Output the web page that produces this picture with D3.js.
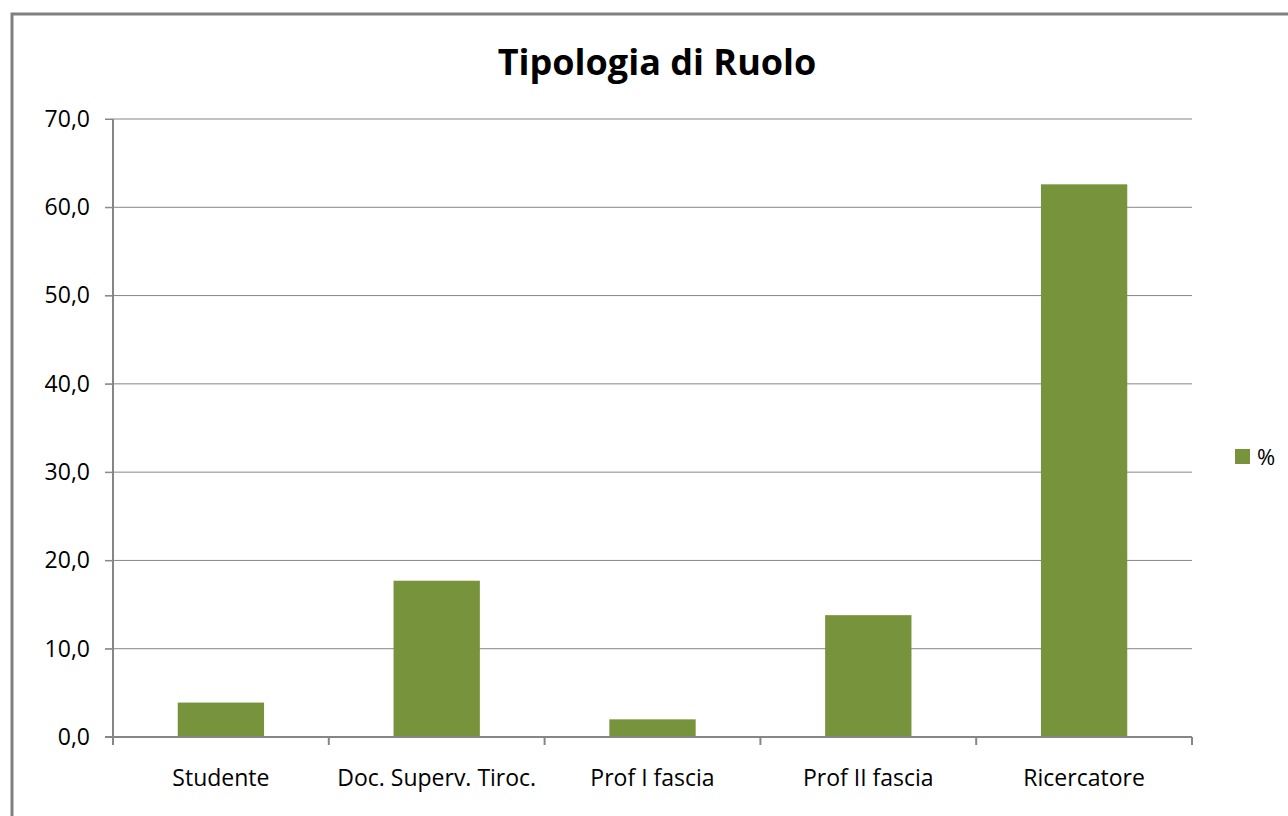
<!DOCTYPE html>
<html>
<head>
<meta charset="utf-8">
<script src="https://cdn.jsdelivr.net/npm/d3@7"></script>
<style>
  body { margin: 0; background: #fff; }
  svg { display: block; font-family: "Open Sans", "DejaVu Sans", sans-serif; }
</style>
</head>
<body>
<svg width="1288" height="816"></svg>
<script>
var categories = ['Studente', 'Doc. Superv. Tiroc.', 'Prof I fascia', 'Prof II fascia', 'Ricercatore'];
var values = [3.9, 17.7, 2.0, 13.8, 62.6];
var yTicks = [0, 10, 20, 30, 40, 50, 60, 70];
var seriesName = '%';

var green = '#77933C';
var gray = '#868686';

var svg = d3.select('svg');

// chart frame (runs off the right and bottom edges)
svg.append('rect')
  .attr('x', 12).attr('y', 14)
  .attr('width', 1300).attr('height', 820)
  .attr('fill', 'none')
  .attr('stroke', '#808080')
  .attr('stroke-width', 3);

svg.append('text')
  .attr('x', 657).attr('y', 75)
  .attr('text-anchor', 'middle')
  .style('font-size', '36px')
  .style('font-weight', 'bold')
  .text('Tipologia di Ruolo');

var plotLeft = 113, plotRight = 1192, plotTop = 119, plotBottom = 737;

var x = d3.scaleBand().domain(categories).range([plotLeft, plotRight]).paddingInner(0.6).paddingOuter(0.3);
var y = d3.scaleLinear().domain([0, 70]).range([plotBottom, plotTop]);

// gridlines
svg.append('g').selectAll('line')
  .data(yTicks.filter(function(d) { return d > 0; }))
  .enter().append('line')
  .attr('x1', plotLeft - 8).attr('x2', plotRight)
  .attr('y1', function(d) { return y(d); })
  .attr('y2', function(d) { return y(d); })
  .attr('stroke', gray).attr('stroke-width', 1);

// bars
svg.append('g').selectAll('rect')
  .data(values)
  .enter().append('rect')
  .attr('x', function(d, i) { return x(categories[i]); })
  .attr('width', x.bandwidth())
  .attr('y', function(d) { return y(d); })
  .attr('height', function(d) { return y(0) - y(d); })
  .attr('fill', green);

// y axis
var yAxis = d3.axisLeft(y)
  .tickValues(yTicks)
  .tickSize(8)
  .tickPadding(15)
  .tickFormat(function(d) { return d3.format('.1f')(d).replace('.', ','); });

svg.append('g')
  .attr('transform', 'translate(' + plotLeft + ',0)')
  .call(yAxis)
  .call(function(g) {
    g.select('.domain').remove();
    g.append('line').attr('x1', 0).attr('x2', 0).attr('y1', plotTop).attr('y2', plotBottom + 8)
      .attr('stroke', gray).attr('stroke-width', 2);
    g.selectAll('.tick line').attr('stroke', gray);
    g.selectAll('.tick text').attr('fill', '#000').style('font-size', '23px').style('font-family', '"Open Sans", sans-serif');
  });

// x axis baseline and category separators
var step = (plotRight - plotLeft) / categories.length;
var gx = svg.append('g');
gx.append('line')
  .attr('x1', plotLeft - 8).attr('x2', plotRight)
  .attr('y1', plotBottom).attr('y2', plotBottom)
  .attr('stroke', gray).attr('stroke-width', 2);
gx.selectAll('line.sep')
  .data(d3.range(categories.length + 1))
  .enter().append('line')
  .attr('class', 'sep')
  .attr('x1', function(i) { return plotLeft + i * step; })
  .attr('x2', function(i) { return plotLeft + i * step; })
  .attr('y1', plotBottom).attr('y2', plotBottom + 8)
  .attr('stroke', gray).attr('stroke-width', 2);
gx.selectAll('text')
  .data(categories)
  .enter().append('text')
  .attr('x', function(d) { return x(d) + x.bandwidth() / 2; })
  .attr('y', 786)
  .attr('text-anchor', 'middle')
  .style('font-size', '23px')
  .text(function(d) { return d; });

// legend
svg.append('rect')
  .attr('x', 1235).attr('y', 449)
  .attr('width', 15).attr('height', 15)
  .attr('fill', green);
svg.append('text')
  .attr('x', 1257).attr('y', 465)
  .style('font-size', '22px')
  .text(seriesName);
</script>
</body>
</html>
